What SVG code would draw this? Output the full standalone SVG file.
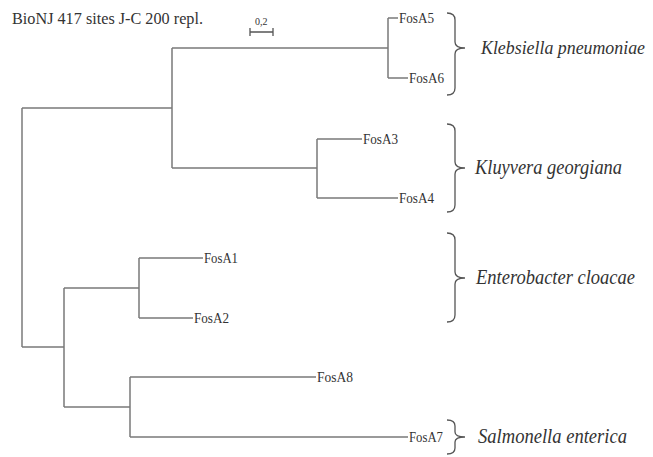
<svg xmlns="http://www.w3.org/2000/svg" width="653" height="457" viewBox="0 0 653 457">
<style>
.br{fill:none;stroke:#7a7a7a;stroke-width:1.5}
.bk{fill:none;stroke:#555;stroke-width:1.3}
.lf{font-family:"Liberation Serif","Times New Roman",serif;font-size:15px;fill:#333}
.sp{font-family:"Liberation Serif","Times New Roman",serif;font-size:20px;font-style:italic;fill:#333}
.tt{font-family:"Liberation Serif","Times New Roman",serif;font-size:16.5px;fill:#333}
.sc{font-family:"Liberation Serif","Times New Roman",serif;font-size:10px;fill:#333}
</style>
<rect width="653" height="457" fill="#fff"/>
<text class="tt" x="12" y="24" textLength="191" lengthAdjust="spacingAndGlyphs">BioNJ 417 sites J-C 200 repl.</text>
<g id="scale">
<text class="sc" x="255" y="25">0,2</text>
<path class="bk" d="M250,32H273M250,28V36M273,28V36"/>
</g>
<g id="connectors">
<path class="br" d="M22,108V347"/>
<path class="br" d="M22,108H172V48M172,108V168"/>
<path class="br" d="M172,48H388M388,18V78M388,18H398M388,78H408"/>
<path class="br" d="M172,168H317M317,139V198M317,139H362M317,198H398"/>
<path class="br" d="M22,347H64M64,288V407"/>
<path class="br" d="M64,288H139M139,258V318M139,258H203M139,318H193"/>
<path class="br" d="M64,407H130M130,377V437M130,377H316M130,437H408"/>
</g>
<g id="FosA5"><text class="lf" x="399" y="23" textLength="35" lengthAdjust="spacingAndGlyphs">FosA5</text></g>
<g id="FosA6"><text class="lf" x="409" y="83" textLength="35" lengthAdjust="spacingAndGlyphs">FosA6</text></g>
<g id="FosA3"><text class="lf" x="363" y="144" textLength="35" lengthAdjust="spacingAndGlyphs">FosA3</text></g>
<g id="FosA4"><text class="lf" x="399" y="203" textLength="35" lengthAdjust="spacingAndGlyphs">FosA4</text></g>
<g id="FosA1"><text class="lf" x="204" y="263" textLength="34" lengthAdjust="spacingAndGlyphs">FosA1</text></g>
<g id="FosA2"><text class="lf" x="194" y="323" textLength="35" lengthAdjust="spacingAndGlyphs">FosA2</text></g>
<g id="FosA8"><text class="lf" x="317" y="382" textLength="36" lengthAdjust="spacingAndGlyphs">FosA8</text></g>
<g id="FosA7"><text class="lf" x="409" y="442" textLength="34" lengthAdjust="spacingAndGlyphs">FosA7</text></g>
<g id="klebsiella">
<path class="bk" d="M447,13Q455,13 455,20V42Q455,48 465,48Q455,48 455,54V88Q455,95 447,95"/>
<text class="sp" x="481" y="54" style="font-size:18px" textLength="164" lengthAdjust="spacingAndGlyphs">Klebsiella pneumoniae</text>
</g>
<g id="kluyvera">
<path class="bk" d="M447,124Q455,124 455,131V162Q455,168 465,168Q455,168 455,174V205Q455,212 447,212"/>
<text class="sp" x="475" y="174" textLength="147" lengthAdjust="spacingAndGlyphs">Kluyvera georgiana</text>
</g>
<g id="enterobacter">
<path class="bk" d="M447,233Q455,233 455,240V272Q455,278 465,278Q455,278 455,284V315Q455,322 447,322"/>
<text class="sp" x="476" y="284" textLength="159" lengthAdjust="spacingAndGlyphs">Enterobacter cloacae</text>
</g>
<g id="salmonella">
<path class="bk" d="M447,420Q455,420 455,426V432Q455,437 465,437Q455,437 455,442V448Q455,454 447,454"/>
<text class="sp" x="478" y="443" textLength="149" lengthAdjust="spacingAndGlyphs">Salmonella enterica</text>
</g>
</svg>
